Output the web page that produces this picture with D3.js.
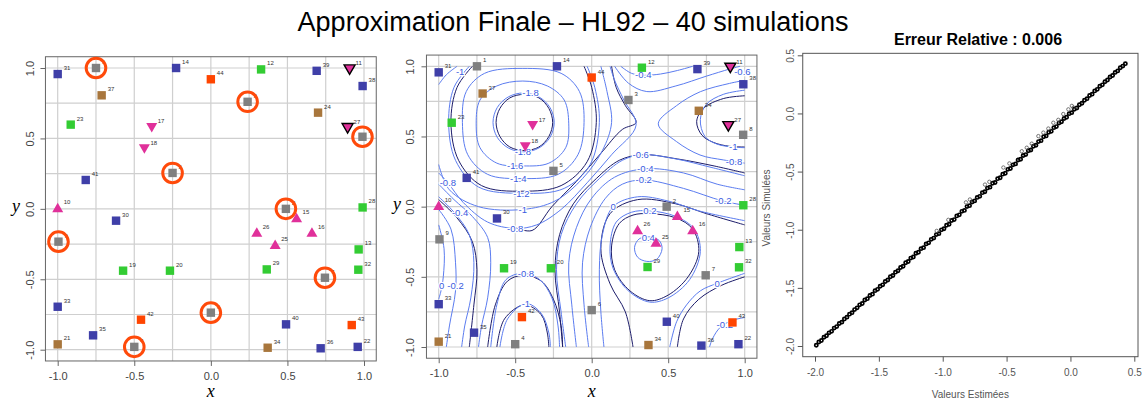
<!DOCTYPE html>
<html><head><meta charset="utf-8">
<script src="https://cdn.jsdelivr.net/npm/d3@7"></script>
<style>body{margin:0;background:#fff}svg{display:block}</style>
</head><body>
<svg id="c" width="1146" height="403"></svg>
<script>
// ---------------- DATA ----------------
const titleText = "Approximation Finale \u2013 HL92 \u2013 40 simulations";
const panel3Title = "Erreur Relative : 0.006";
const xyTicks = [-1, -0.5, 0, 0.5, 1];
const gridVals = [-1, -0.75, -0.5, -0.25, 0, 0.25, 0.5, 0.75, 1];
const p3Ticks = [-2, -1.5, -1, -0.5, 0, 0.5];

// design points: id, x, y, type
const pointIds = [1,2,3,4,5,6,7,8,9,10,11,15,16,17,18,25,26,27,12,13,19,20,23,28,29,32,14,22,30,31,33,35,36,38,39,40,41,42,43,44,21,24,34,37];
const pointX = [-0.75,0.49,0.24,-0.5,-0.25,0.0,0.745,0.99,-0.995,-1.0,0.906,0.56,0.66,-0.386,-0.434,0.42,0.30,0.893,0.328,0.965,-0.573,-0.267,-0.915,0.991,0.365,0.963,-0.227,0.959,-0.619,-1.0,-1.0,-0.769,0.717,0.991,0.691,0.491,-0.817,-0.456,0.92,0.0,-1.0,0.70,0.371,-0.713];
const pointY = [1.0,0.0,0.76,-0.98,0.255,-0.737,-0.489,0.512,-0.233,0.004,0.99,-0.067,-0.169,0.578,0.427,-0.257,-0.169,0.574,0.99,-0.288,-0.439,-0.439,0.598,0.01,-0.43,-0.432,1.0,-0.98,-0.084,0.957,-0.695,-0.898,-0.99,0.872,0.98,-0.82,0.205,-0.787,-0.825,0.92,-0.962,0.683,-0.986,0.806];
const pointType = ["gray","gray","gray","gray","gray","gray","gray","gray","gray","up","dkdown","up","up","down","down","up","up","dkdown","green","green","green","green","green","green","green","green","blue","blue","blue","blue","blue","blue","blue","blue","blue","blue","blue","orange","orange","orange","brown","brown","brown","brown"];

// estimated contours (blue), data coordinates
const contoursEst = [
 {level:-1.8, closed:true, pts:[[-0.245,0.60],[-0.272,0.705],[-0.345,0.782],[-0.445,0.81],[-0.545,0.782],[-0.618,0.705],[-0.645,0.60],[-0.618,0.495],[-0.545,0.418],[-0.445,0.39],[-0.345,0.418],[-0.272,0.495]]},
 {level:-1.6, closed:true, pts:[[-0.15,0.59],[-0.18,0.76],[-0.29,0.86],[-0.45,0.895],[-0.62,0.86],[-0.73,0.76],[-0.755,0.59],[-0.73,0.42],[-0.62,0.31],[-0.45,0.29],[-0.28,0.31],[-0.17,0.42]]},
 {level:-1.4, closed:true, pts:[[-0.05,0.6],[-0.08,0.82],[-0.2,0.95],[-0.45,0.985],[-0.7,0.95],[-0.82,0.82],[-0.845,0.6],[-0.81,0.37],[-0.68,0.23],[-0.45,0.2],[-0.22,0.23],[-0.09,0.37]]},
 {level:-1.2, pts:[[-0.8,1.0],[-0.9,0.85],[-0.935,0.6],[-0.89,0.33],[-0.74,0.14],[-0.45,0.095],[-0.18,0.13],[-0.01,0.3],[0.05,0.6],[0.02,0.85],[-0.03,1.0]]},
 {level:-1, pts:[[-0.88,1.0],[-0.95,0.94],[-1.0,0.87]]},
 {level:-1, pts:[[-1.0,0.3],[-0.93,0.12],[-0.74,0.0],[-0.45,-0.02],[-0.24,0.04],[-0.06,0.2],[0.07,0.4],[0.13,0.6],[0.1,0.82],[0.06,1.0]]},
 {level:-0.8, pts:[[-1.0,0.24],[-0.94,0.17],[-0.84,0.03],[-0.68,-0.11],[-0.5,-0.155],[-0.36,-0.13],[-0.2,-0.02],[-0.03,0.17],[0.13,0.37],[0.29,0.58],[0.21,0.76],[0.15,0.9],[0.12,1.0]]},
 {level:-0.6, pts:[[0.15,1.0],[0.24,0.88],[0.36,0.82],[0.55,0.86],[0.75,0.93],[0.9,0.98],[0.97,1.0]]},
 {level:-0.4, pts:[[0.19,1.0],[0.26,0.95],[0.337,0.936],[0.45,0.945],[0.56,0.97],[0.66,1.0]]},
 {level:-0.8, pts:[[1.0,0.9],[0.9,0.878],[0.71,0.819],[0.555,0.72],[0.435,0.59],[0.555,0.463],[0.708,0.368],[0.86,0.333],[1.0,0.31]]},
 {level:-1, pts:[[1.0,0.83],[0.86,0.8],[0.75,0.73],[0.71,0.62],[0.74,0.5],[0.82,0.445],[0.925,0.425],[1.0,0.42]]},
 {level:-0.6, pts:[[-0.17,-1.0],[-0.2,-0.75],[-0.23,-0.45],[-0.2,-0.2],[-0.1,0.02],[0.05,0.2],[0.2,0.33],[0.33,0.37],[0.55,0.34],[0.78,0.28],[1.0,0.22]]},
 {level:-0.4, pts:[[-0.1,-1.0],[-0.13,-0.7],[-0.15,-0.4],[-0.1,-0.15],[0.0,0.06],[0.15,0.21],[0.35,0.27],[0.6,0.24],[0.82,0.16],[1.0,0.12]]},
 {level:-0.2, pts:[[-0.02,-1.0],[-0.05,-0.7],[-0.06,-0.4],[-0.01,-0.15],[0.09,0.06],[0.2,0.16],[0.34,0.19],[0.6,0.13],[0.857,0.04],[1.0,0.01]]},
 {level:0, pts:[[0.08,-1.0],[0.06,-0.75],[0.05,-0.45],[0.07,-0.2],[0.14,0.0],[0.3,0.07],[0.5,0.04],[0.7,-0.03],[1.0,-0.1]]},
 {level:0, pts:[[1.0,-0.475],[0.82,-0.546],[0.71,-0.6],[0.62,-0.7],[0.555,-0.82],[0.51,-1.0]]},
 {level:-0.2, pts:[[1.0,-0.79],[0.92,-0.81],[0.84,-0.86],[0.79,-0.94],[0.77,-1.0]]},
 {level:0.2, closed:true, pts:[[0.38,-0.03],[0.55,-0.07],[0.67,-0.16],[0.71,-0.32],[0.64,-0.52],[0.5,-0.65],[0.38,-0.68],[0.24,-0.6],[0.14,-0.44],[0.12,-0.28],[0.16,-0.11],[0.26,-0.04]]},
 {level:0.4, closed:true, pts:[[0.37,-0.215],[0.44,-0.24],[0.46,-0.3],[0.425,-0.375],[0.36,-0.39],[0.3,-0.36],[0.28,-0.29],[0.31,-0.23]]},
 {level:0, pts:[[-1.0,-0.13],[-0.965,-0.3],[-0.97,-0.5],[-0.985,-0.6],[-1.0,-0.66]]},
 {level:-0.2, pts:[[-1.0,-0.02],[-0.92,-0.16],[-0.89,-0.4],[-0.89,-0.6],[-0.93,-0.85],[-0.95,-1.0]]},
 {level:-0.4, pts:[[-1.0,0.07],[-0.9,-0.04],[-0.8,-0.2],[-0.77,-0.4],[-0.79,-0.65],[-0.83,-0.85],[-0.85,-1.0]]},
 {level:-0.6, pts:[[-1.0,0.16],[-0.9,0.05],[-0.78,-0.07],[-0.68,-0.22],[-0.66,-0.4],[-0.68,-0.65],[-0.72,-0.85],[-0.74,-1.0]]},
 {level:-0.8, pts:[[-0.66,-1.0],[-0.62,-0.7],[-0.56,-0.52],[-0.45,-0.475],[-0.34,-0.52],[-0.26,-0.65],[-0.22,-0.85],[-0.21,-1.0]]},
 {level:-1, pts:[[-0.6,-1.0],[-0.55,-0.8],[-0.43,-0.69],[-0.33,-0.76],[-0.28,-0.9],[-0.27,-1.0]]}
];
// simulated contours (dark), data coordinates
const contoursSim = [
 {level:-1.8, closed:true, pts:[[-0.255,0.6],[-0.28,0.70],[-0.345,0.775],[-0.44,0.80],[-0.535,0.775],[-0.6,0.70],[-0.625,0.6],[-0.6,0.5],[-0.535,0.425],[-0.44,0.4],[-0.345,0.425],[-0.28,0.5]]},
 {level:-1, pts:[[1.0,0.79],[0.86,0.77],[0.73,0.70],[0.686,0.606],[0.72,0.51],[0.795,0.458],[0.9,0.43],[1.0,0.425]]},
 {level:-0.8, pts:[[-0.5,-0.15],[-0.39,-0.17],[-0.26,0.0],[-0.1,0.18],[0.06,0.38],[0.2,0.55],[0.29,0.6],[0.22,0.72],[0.16,0.85],[0.13,1.0]]},
 {level:0.2, closed:true, pts:[[0.38,-0.05],[0.55,-0.08],[0.66,-0.16],[0.7,-0.32],[0.63,-0.5],[0.5,-0.63],[0.38,-0.67],[0.25,-0.6],[0.15,-0.45],[0.13,-0.28],[0.18,-0.12],[0.27,-0.06]]},
 {level:-1, pts:[[-0.62,-1.0],[-0.57,-0.8],[-0.44,-0.7],[-0.33,-0.77],[-0.29,-0.9],[-0.28,-1.0]]},
 {level:-0.6, pts:[[-0.19,-1.0],[-0.21,-0.75],[-0.24,-0.45],[-0.21,-0.2],[-0.12,0.02],[0.03,0.2],[0.18,0.33],[0.33,0.37],[0.56,0.34],[0.8,0.29],[1.0,0.24]]},
 {level:0, pts:[[0.27,-1.0],[0.22,-0.75],[0.12,-0.55],[0.06,-0.3],[0.12,-0.05],[0.3,0.05],[0.55,0.02],[0.75,-0.05],[1.0,-0.13]]},
 {level:0, pts:[[1.0,-0.5],[0.85,-0.56],[0.7,-0.66],[0.6,-0.8],[0.56,-1.0]]},
 {level:-0.8, pts:[[-0.68,-1.0],[-0.63,-0.7],[-0.55,-0.53],[-0.45,-0.49],[-0.33,-0.53],[-0.25,-0.66],[-0.2,-0.85],[-0.19,-1.0]]},
 {level:-0.4, pts:[[-1.0,0.05],[-0.88,-0.08],[-0.78,-0.25],[-0.75,-0.45],[-0.77,-0.7],[-0.8,-1.0]]},
 {level:-1.2, pts:[[-0.78,1.0],[-0.88,0.85],[-0.92,0.6],[-0.87,0.33],[-0.72,0.15],[-0.45,0.11],[-0.2,0.15],[-0.03,0.32],[0.03,0.6],[0.0,0.85],[-0.05,1.0]]}
];
const contourLabels = [
 ["-1.8",-0.40,0.81],["-1.8",-0.45,0.39],["-1.6",-0.5,0.29],["-1.4",-0.48,0.2],["-1.2",-0.46,0.095],
 ["-1",-0.45,-0.02],["-0.8",-0.5,-0.155],["-1",-0.86,0.96],["-0.8",-0.94,0.17],["-0.4",-0.86,-0.04],
 ["0",-0.98,-0.56],["-0.2",-0.89,-0.56],["-0.8",-0.43,-0.475],["-1",-0.43,-0.69],["-0.4",0.337,0.94],
 ["-0.6",0.985,0.965],["-1",0.925,0.425],["-0.8",0.93,0.32],["-0.6",0.32,0.37],["-0.4",0.35,0.27],
 ["-0.2",0.34,0.19],["-0.2",0.86,0.04],["0",0.14,0.0],["0.2",0.38,-0.03],["0.4",0.37,-0.22],
 ["0",0.82,-0.546],["-0.2",0.87,-0.84]
];

// panel 3: estimated vs simulated values
const estMain = [-1.99,-1.97,-1.95,-1.93,-1.91,-1.89,-1.87,-1.85,-1.83,-1.81,-1.79,-1.77,-1.75,-1.73,-1.71,-1.69,-1.67,-1.65,-1.63,-1.61,-1.59,-1.57,-1.55,-1.53,-1.51,-1.49,-1.47,-1.45,-1.43,-1.41,-1.39,-1.37,-1.35,-1.33,-1.31,-1.29,-1.27,-1.25,-1.23,-1.21,-1.19,-1.17,-1.15,-1.13,-1.11,-1.09,-1.07,-1.05,-1.03,-1.01,-0.99,-0.97,-0.95,-0.93,-0.91,-0.89,-0.87,-0.85,-0.83,-0.81,-0.79,-0.77,-0.75,-0.73,-0.71,-0.69,-0.67,-0.65,-0.63,-0.61,-0.59,-0.57,-0.55,-0.53,-0.51,-0.49,-0.47,-0.45,-0.43,-0.41,-0.39,-0.37,-0.35,-0.33,-0.31,-0.29,-0.27,-0.25,-0.23,-0.21,-0.19,-0.17,-0.15,-0.13,-0.11,-0.09,-0.07,-0.05,-0.03,-0.01,0.01,0.03,0.05,0.07,0.09,0.11,0.13,0.15,0.17,0.19,0.21,0.23,0.25,0.27,0.29,0.31,0.33,0.35,0.37,0.39,0.41,0.43];
const simMain = [-1.994,-1.966,-1.953,-1.925,-1.912,-1.887,-1.874,-1.846,-1.833,-1.806,-1.795,-1.768,-1.752,-1.726,-1.713,-1.687,-1.672,-1.646,-1.634,-1.605,-1.593,-1.566,-1.554,-1.524,-1.513,-1.486,-1.474,-1.445,-1.433,-1.404,-1.394,-1.365,-1.353,-1.325,-1.314,-1.284,-1.273,-1.244,-1.235,-1.203,-1.194,-1.163,-1.154,-1.122,-1.113,-1.083,-1.072,-1.042,-1.034,-1.001,-0.992,-0.961,-0.953,-0.921,-0.913,-0.881,-0.872,-0.842,-0.834,-0.801,-0.793,-0.762,-0.752,-0.722,-0.713,-0.681,-0.673,-0.642,-0.634,-0.601,-0.594,-0.561,-0.553,-0.522,-0.514,-0.481,-0.474,-0.442,-0.434,-0.401,-0.394,-0.362,-0.354,-0.321,-0.314,-0.282,-0.273,-0.242,-0.234,-0.201,-0.193,-0.162,-0.154,-0.122,-0.113,-0.082,-0.072,-0.043,-0.033,-0.002,0.007,0.036,0.047,0.075,0.087,0.114,0.127,0.154,0.166,0.194,0.207,0.234,0.246,0.273,0.287,0.313,0.326,0.353,0.366,0.393,0.407,0.428];
const estOut = [-1.047,-0.956,-0.818,-0.787,-0.669,-0.635,-0.525,-0.478,-0.381,-0.342,-0.303,-0.251,-0.212,-0.173,-0.134,-0.095,-0.056,-0.016,0.011,0.024];
const simOut = [-1.01,-0.915,-0.765,-0.74,-0.612,-0.588,-0.465,-0.43,-0.325,-0.295,-0.26,-0.195,-0.165,-0.13,-0.08,-0.055,-0.005,0.035,0.065,0.05];

// ---------------- DRAW ----------------
const svg = d3.select("#c");
const SANS = "'Liberation Sans', Arial, Helvetica, sans-serif";
const SERIF = "'Liberation Serif', 'DejaVu Serif', serif";
const colors = {gray:"#808080", blue:"#3f3fa8", green:"#33cc33", orange:"#ff4500", brown:"#a8763c", mag:"#e0309a"};
const f1 = d => d.toFixed(1);

svg.append("text").attr("x",573).attr("y",31).attr("text-anchor","middle")
  .attr("font-family",SANS).attr("font-size",27).attr("fill","#000").text(titleText);

function drawPanel(opt){
  const x = d3.scaleLinear().domain([-1,1]).range(opt.xr);
  const y = d3.scaleLinear().domain([-1,1]).range(opt.yr);
  const g = svg.append("g");
  const x0=x(-1.08), x1=x(1.08), y0=y(1.08), y1=y(-1.08);
  // grid
  g.append("g").selectAll("line").data(gridVals).join("line")
    .attr("x1",d=>x(d)).attr("x2",d=>x(d)).attr("y1",y0).attr("y2",y1)
    .attr("stroke","#cfcfcf").attr("stroke-width",1.2);
  g.append("g").selectAll("line").data(gridVals).join("line")
    .attr("y1",d=>y(d)).attr("y2",d=>y(d)).attr("x1",x0).attr("x2",x1)
    .attr("stroke","#cfcfcf").attr("stroke-width",1.2);
  if(opt.contours){
    const ln = d3.line().x(d=>x(d[0])).y(d=>y(d[1])).curve(d3.curveCatmullRom.alpha(0.5));
    const lc = d3.line().x(d=>x(d[0])).y(d=>y(d[1])).curve(d3.curveCatmullRomClosed.alpha(0.5));
    g.append("g").selectAll("path").data(contoursSim).join("path")
      .attr("d",d=>d.closed?lc(d.pts):ln(d.pts)).attr("fill","none")
      .attr("stroke","#1c1c6a").attr("stroke-width",1);
    g.append("g").selectAll("path").data(contoursEst).join("path")
      .attr("d",d=>d.closed?lc(d.pts):ln(d.pts)).attr("fill","none")
      .attr("stroke","#5b7cf0").attr("stroke-width",1);
    g.append("g").selectAll("text").data(contourLabels).join("text")
      .attr("x",d=>x(d[1])).attr("y",d=>y(d[2])).attr("dy","0.35em")
      .attr("text-anchor","middle").attr("font-family",SANS).attr("font-size",9.5)
      .attr("fill","#3a5be0").attr("stroke","#fff").attr("stroke-width",2.5)
      .attr("paint-order","stroke").text(d=>d[0]);
  }
  // box
  g.append("rect").attr("x",x0).attr("y",y0).attr("width",x1-x0).attr("height",y1-y0)
    .attr("fill","none").attr("stroke","#666").attr("stroke-width",1);
  // axes
  const ax = g.append("g").attr("transform",`translate(0,${y1})`)
    .call(d3.axisBottom(x).tickValues(xyTicks).tickFormat(f1).tickSize(5).tickPadding(6));
  const ay = g.append("g").attr("transform",`translate(${x0},0)`)
    .call(d3.axisLeft(y).tickValues(xyTicks).tickFormat(f1).tickSize(5).tickPadding(7));
  [ax,ay].forEach(a=>{
    a.select(".domain").remove();
    a.selectAll("line").attr("stroke","#666");
    a.selectAll("text").attr("font-family",SANS).attr("font-size",11).attr("fill","#444");
  });
  ay.selectAll("text").attr("transform","rotate(-90)").attr("x",0).attr("y",-opt.ylabOff)
    .attr("dy","0").attr("text-anchor","middle");
  g.append("text").attr("x",(x0+x1)/2).attr("y",397).attr("text-anchor","middle")
    .attr("font-family",SERIF).attr("font-style","italic").attr("font-size",18).text("x");
  g.append("text").attr("x",opt.yLabX).attr("y",(y0+y1)/2+3).attr("text-anchor","middle")
    .attr("font-family",SERIF).attr("font-style","italic").attr("font-size",18).text("y");
  // points
  const pts = pointIds.map((id,i)=>({id, x:pointX[i], y:pointY[i], t:pointType[i]}));
  const pg = g.append("g");
  pts.forEach(p=>{
    const px=x(p.x), py=y(p.y);
    if(["gray","blue","green","orange","brown"].includes(p.t)){
      pg.append("rect").attr("x",px-4.2).attr("y",py-4.2).attr("width",8.4).attr("height",8.4)
        .attr("fill",colors[p.t]);
    } else if(p.t==="up"){
      pg.append("path").attr("d",`M${px},${py-5.5}L${px+5.5},${py+4}L${px-5.5},${py+4}Z`).attr("fill",colors.mag);
    } else {
      const dk = p.t==="dkdown";
      pg.append("path").attr("d",`M${px-5.5},${py-4.5}L${px+5.5},${py-4.5}L${px},${py+5}Z`)
        .attr("fill",colors.mag).attr("stroke",dk?"#000":"none").attr("stroke-width",1.4);
    }
    pg.append("text").attr("x",px+6).attr("y",py-4).attr("font-family",SANS).attr("font-size",6)
      .attr("fill","#333").text(p.id);
    if(opt.circles && p.t==="gray"){
      pg.append("circle").attr("cx",px).attr("cy",py).attr("r",9.8).attr("fill","none")
        .attr("stroke","#ff4a0a").attr("stroke-width",3);
    }
  });
}

drawPanel({xr:[57.7,364], yr:[349.7,68], circles:true, contours:false, ylabOff:11, yLabX:16});
drawPanel({xr:[438.7,744.7], yr:[347,66.3], circles:false, contours:true, ylabOff:12, yLabX:397});

// panel 3
(function(){
  const x = d3.scaleLinear().domain([-2,0.5]).range([815,1134.3]);
  const y = d3.scaleLinear().domain([-2,0.5]).range([346,55.3]);
  const g = svg.append("g");
  const x0=x(-2.096), x1=x(0.529), y0=y(0.517), y1=y(-2.092);
  g.append("rect").attr("x",x0).attr("y",y0).attr("width",x1-x0).attr("height",y1-y0)
    .attr("fill","none").attr("stroke","#555").attr("stroke-width",1);
  const ax = g.append("g").attr("transform",`translate(0,${y1})`)
    .call(d3.axisBottom(x).tickValues(p3Ticks).tickFormat(f1).tickSize(5).tickPadding(7));
  const ay = g.append("g").attr("transform",`translate(${x0},0)`)
    .call(d3.axisLeft(y).tickValues(p3Ticks).tickFormat(f1).tickSize(5).tickPadding(7));
  [ax,ay].forEach(a=>{
    a.select(".domain").remove();
    a.selectAll("line").attr("stroke","#555");
    a.selectAll("text").attr("font-family",SANS).attr("font-size",10).attr("fill","#555");
  });
  ay.selectAll("text").attr("transform","rotate(-90)").attr("x",0).attr("y",-9)
    .attr("dy","0").attr("text-anchor","middle");
  g.append("text").attr("x",(x0+x1)/2).attr("y",398).attr("text-anchor","middle")
    .attr("font-family",SANS).attr("font-size",10).attr("fill","#555").text("Valeurs Estim\u00e9es");
  g.append("text").attr("transform",`translate(770,${(y0+y1)/2+3}) rotate(-90)`).attr("text-anchor","middle")
    .attr("font-family",SANS).attr("font-size",10).attr("fill","#555").text("Valeurs Simul\u00e9es");
  g.append("text").attr("x",978).attr("y",45).attr("text-anchor","middle")
    .attr("font-family",SANS).attr("font-weight","bold").attr("font-size",16).text(panel3Title);
  g.append("g").selectAll("circle").data(estMain.map((e,i)=>[e,simMain[i]])).join("circle")
    .attr("cx",d=>x(d[0])).attr("cy",d=>y(d[1])).attr("r",1.6)
    .attr("fill","none").attr("stroke","#000").attr("stroke-width",1.7);
  g.append("g").selectAll("circle").data(estOut.map((e,i)=>[e,simOut[i]])).join("circle")
    .attr("cx",d=>x(d[0])).attr("cy",d=>y(d[1])).attr("r",1.7)
    .attr("fill","none").attr("stroke","#555").attr("stroke-width",0.8);
})();
</script>
</body></html>
